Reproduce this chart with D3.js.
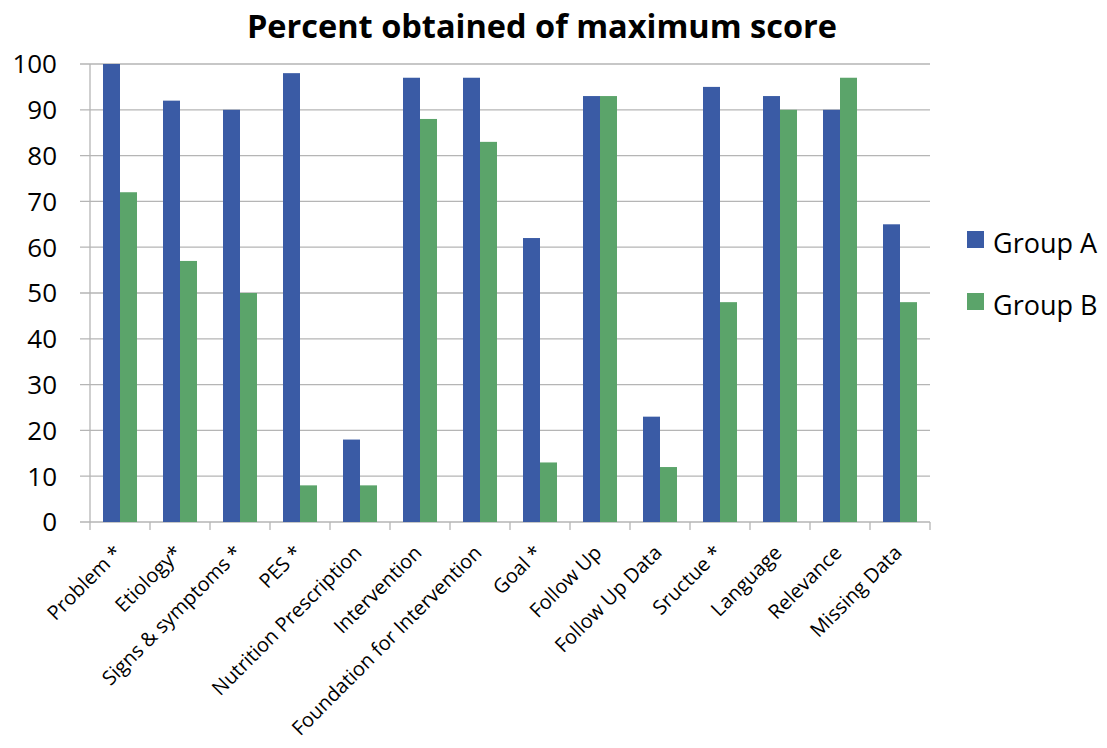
<!DOCTYPE html>
<html>
<head>
<meta charset="utf-8">
<script src="https://cdn.jsdelivr.net/npm/d3@7"></script>
<style>
  body { margin: 0; background: #fff; }
  text { font-family: "Open Sans", sans-serif; fill: #000; }
</style>
</head>
<body>
<div id="chart"></div>
<script>
// chart data
const categories = ["Problem *", "Etiology*", "Signs & symptoms *", "PES *", "Nutrition Prescription",
  "Intervention", "Foundation for Intervention", "Goal *", "Follow Up", "Follow Up Data",
  "Sructue *", "Language", "Relevance", "Missing Data"];
const groupA = [100, 92, 90, 98, 18, 97, 97, 62, 93, 23, 95, 93, 90, 65];
const groupB = [72, 57, 50, 8, 8, 88, 83, 13, 93, 12, 48, 90, 97, 48];
const seriesNames = ["Group A", "Group B"];
const yTicks = [0, 10, 20, 30, 40, 50, 60, 70, 80, 90, 100];

const colors = ["#3A5BA5", "#5BA46A"];

const W = 1107, H = 748;
const margin = {top: 64, right: 177, bottom: 226, left: 90},
    width = W - margin.left - margin.right,
    height = H - margin.top - margin.bottom;

const svg = d3.select("#chart").append("svg")
    .attr("width", W).attr("height", H);

// title
svg.append("text")
    .attr("x", 542).attr("y", 38)
    .attr("text-anchor", "middle")
    .style("font-size", "32.5px").style("font-weight", "bold")
    .text("Percent obtained of maximum score");

const g = svg.append("g").attr("transform", `translate(${margin.left},${margin.top})`);

const x = d3.scaleBand().domain(categories).range([0, width]).paddingInner(0).paddingOuter(0);
const x1 = d3.scaleBand().domain(seriesNames).range([13, x.bandwidth() - 13]);
const y = d3.scaleLinear().domain([0, 100]).range([height, 0]);

// gridlines
g.selectAll(".grid").data(yTicks).join("line")
    .attr("x1", -10).attr("x2", width)
    .attr("y1", d => y(d)).attr("y2", d => y(d))
    .attr("stroke", "#b5b5b5").attr("stroke-width", 1.3);

// y axis line
g.append("line").attr("x1", 0).attr("x2", 0).attr("y1", 0).attr("y2", height)
    .attr("stroke", "#b5b5b5").attr("stroke-width", 1.3);

// y tick labels
g.selectAll(".ylab").data(yTicks).join("text")
    .attr("x", -33).attr("y", d => y(d))
    .attr("dy", "0.36em")
    .attr("text-anchor", "end")
    .style("font-size", "26px")
    .text(d => d);

// x tick marks at band boundaries
const bounds = categories.map(c => x(c)).concat([width]);
g.selectAll(".xtick").data(bounds).join("line")
    .attr("x1", d => d).attr("x2", d => d)
    .attr("y1", height).attr("y2", height + 8)
    .attr("stroke", "#b5b5b5").attr("stroke-width", 1.3);

// bars
const rows = categories.map((c, i) => ({cat: c, values: [groupA[i], groupB[i]]}));
const grp = g.selectAll(".grp").data(rows).join("g")
    .attr("transform", d => `translate(${x(d.cat)},0)`);
grp.selectAll("rect").data(d => d.values.map((v, j) => ({key: seriesNames[j], v: v, j: j})))
  .join("rect")
    .attr("x", d => x1(d.key))
    .attr("width", x1.bandwidth())
    .attr("y", d => y(d.v))
    .attr("height", d => height - y(d.v))
    .attr("fill", d => colors[d.j]);

// x labels, rotated
g.selectAll(".xlab").data(categories).join("text")
    .attr("text-anchor", "end")
    .attr("transform", d => `translate(${x(d) + x.bandwidth() / 2 + 3},${height + 32}) rotate(-45)`)
    .style("font-size", "20px")
    .text(d => d);

// legend
const legend = svg.append("g").attr("transform", "translate(967,231)");
seriesNames.forEach((n, i) => {
  const row = legend.append("g").attr("transform", `translate(0,${i * 62})`);
  row.append("rect").attr("width", 17).attr("height", 17).attr("fill", colors[i]);
  row.append("text").attr("x", 26).attr("y", 22)
      .style("font-size", "27px").text(n);
});
</script>
</body>
</html>
